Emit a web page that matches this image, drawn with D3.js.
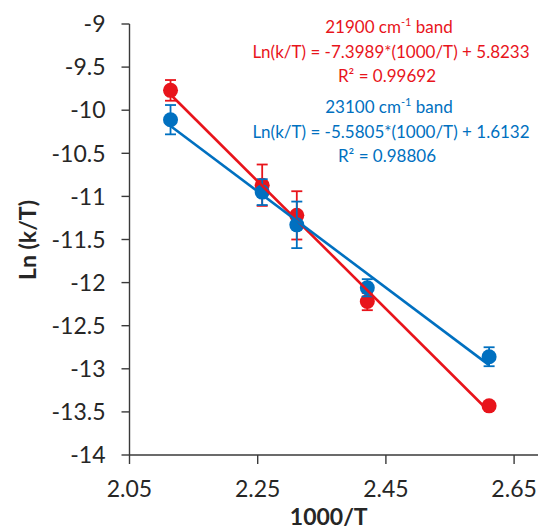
<!DOCTYPE html>
<html><head><meta charset="utf-8">
<script src="https://cdn.jsdelivr.net/npm/d3@7"></script>
<style>
html,body{margin:0;padding:0;background:#fff;}
svg{display:block;font-family:Lato, "Open Sans", sans-serif;}
</style></head>
<body><svg id="c" width="538" height="529"></svg>
<script>
// ---- data ----
const xValues   = [2.114, 2.257, 2.311, 2.421, 2.611];          // 1000/T
const redY      = [-9.77, -10.87, -11.22, -12.22, -13.43];      // 21900 cm-1 band
const redErr    = [0.12, 0.24, 0.28, 0.10, 0.03];
const blueY     = [-10.11, -10.95, -11.33, -12.06, -12.86];     // 23100 cm-1 band
const blueErr   = [0.17, 0.15, 0.27, 0.10, 0.11];
const fitSlope     = [-7.3989, -5.5805];
const fitIntercept = [5.8233, 1.6132];
const seriesNames  = ["21900", "23100"];
const eqTexts   = ["Ln(k/T) = -7.3989*(1000/T) + 5.8233", "Ln(k/T) = -5.5805*(1000/T) + 1.6132"];
const r2Texts   = ["R² = 0.99692", "R² = 0.98806"];
const xTicks    = [2.05, 2.25, 2.45, 2.65];
const yTicks    = [-9, -9.5, -10, -10.5, -11, -11.5, -12, -12.5, -13, -13.5, -14];
const colors    = ["#E8141B", "#0070C0"];

const svg = d3.select("#c");
const x = d3.scaleLinear().domain([2.05, 2.7]).range([129.5, 129.5 + 0.65 * 641]);
const y = d3.scaleLinear().domain([-14, -9]).range([455, 24]);

// axes
const axisColor = "#3a3a3a";
const gx = svg.append("g").attr("transform", `translate(0,${y(-14)})`);
gx.append("line").attr("x1", x(2.05)).attr("x2", 538).attr("stroke", axisColor).attr("stroke-width", 1.4);
gx.selectAll("line.t").data(xTicks).enter().append("line").attr("class","t")
  .attr("x1", d => x(d)).attr("x2", d => x(d)).attr("y1", 0).attr("y2", 9)
  .attr("stroke", axisColor).attr("stroke-width", 1.4);
gx.selectAll("text").data(xTicks).enter().append("text")
  .attr("x", d => x(d)).attr("y", 42).attr("text-anchor", "middle")
  .attr("font-size", 23).attr("fill", "#262626").text(d => d.toFixed(2));

const gy = svg.append("g").attr("transform", `translate(${x(2.05)},0)`);
gy.append("line").attr("y1", y(-9)).attr("y2", y(-14)).attr("stroke", axisColor).attr("stroke-width", 1.4);
gy.selectAll("line.t").data(yTicks).enter().append("line").attr("class","t")
  .attr("x1", -8).attr("x2", 0).attr("y1", d => y(d)).attr("y2", d => y(d))
  .attr("stroke", axisColor).attr("stroke-width", 1.4);
gy.selectAll("text").data(yTicks).enter().append("text")
  .attr("x", -24).attr("y", d => y(d)).attr("dy", "0.36em").attr("text-anchor", "end")
  .attr("font-size", 23).attr("fill", "#262626").text(d => String(d));

// axis titles
svg.append("text").attr("x", x(2.05) + (538 - x(2.05)) / 2 - 5).attr("y", 525)
  .attr("text-anchor", "middle").attr("font-size", 23).attr("font-weight", "bold").attr("fill", "#262626")
  .text("1000/T");
svg.append("text").attr("transform", `translate(36,240) rotate(-90)`)
  .attr("text-anchor", "middle").attr("font-size", 23).attr("font-weight", "bold").attr("fill", "#262626")
  .text("Ln (k/T)");

// series
const series = [
  {ys: redY, err: redErr, c: colors[0]},
  {ys: blueY, err: blueErr, c: colors[1]}
];
series.forEach(s => {
  const g = svg.append("g");
  const pts = xValues.map((xv, i) => ({x: xv, y: s.ys[i], e: s.err[i]}));
  g.selectAll("line.eb").data(pts).enter().append("line")
    .attr("x1", d => x(d.x)).attr("x2", d => x(d.x))
    .attr("y1", d => y(d.y + d.e)).attr("y2", d => y(d.y - d.e))
    .attr("stroke", s.c).attr("stroke-width", 1.8);
  ["+","-"].forEach(sg => {
    g.selectAll("line.cap" + (sg === "+" ? "a" : "b")).data(pts).enter().append("line")
      .attr("x1", d => x(d.x) - 5.5).attr("x2", d => x(d.x) + 5.5)
      .attr("y1", d => y(sg === "+" ? d.y + d.e : d.y - d.e))
      .attr("y2", d => y(sg === "+" ? d.y + d.e : d.y - d.e))
      .attr("stroke", s.c).attr("stroke-width", 1.8);
  });
  g.selectAll("circle").data(pts).enter().append("circle")
    .attr("cx", d => x(d.x)).attr("cy", d => y(d.y)).attr("r", 7.5).attr("fill", s.c);
});

// trendlines
fitSlope.forEach((m, i) => {
  const x0 = d3.min(xValues), x1 = d3.max(xValues);
  const ln = d3.line().x(d => x(d[0])).y(d => y(d[1]));
  svg.append("path").attr("d", ln([[x0, m * x0 + fitIntercept[i]], [x1, m * x1 + fitIntercept[i]]]))
    .attr("stroke", colors[i]).attr("stroke-width", 2.6).attr("fill", "none");
});

// annotations
const baseY = [33, 113];
seriesNames.forEach((nm, i) => {
  const g = svg.append("g").attr("fill", colors[i]).attr("font-size", 17).attr("text-anchor", "middle");
  const t1 = g.append("text").attr("x", 389).attr("y", baseY[i]);
  t1.append("tspan").text(nm + " cm");
  t1.append("tspan").attr("font-size", 11).attr("dy", -7).text("-1");
  t1.append("tspan").attr("dy", 7).text(" band");
  g.append("text").attr("x", 391).attr("y", baseY[i] + 24.5).text(eqTexts[i]);
  g.append("text").attr("x", 387).attr("y", baseY[i] + 49).text(r2Texts[i]);
});
</script></body></html>
